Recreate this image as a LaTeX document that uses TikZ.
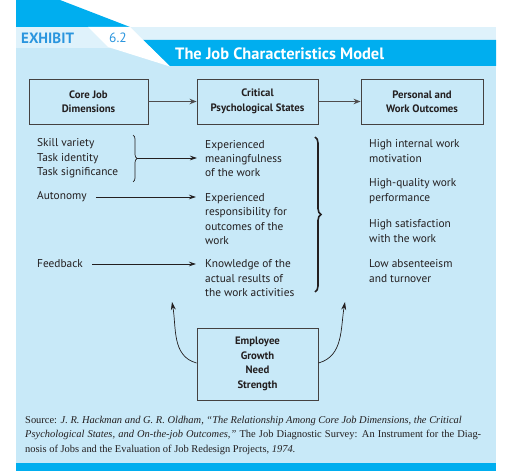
\documentclass[tikz,border=0pt]{standalone}
\usepackage{fontspec}
\setmainfont{PT Sans}
\newfontfamily\srcfont{Liberation Serif}
\usetikzlibrary{arrows.meta,decorations.pathreplacing}
\definecolor{cyanD}{HTML}{00AEEF}
\definecolor{panel}{HTML}{C8E9F8}
\definecolor{band}{HTML}{DFF2FB}
\definecolor{exh}{HTML}{2A95DE}
\definecolor{ink}{HTML}{231F20}
\tikzset{
  hbox/.style={draw=ink!85, line width=0.9pt, minimum height=45bp, align=center, font=\fontsize{10.8}{14.5}\selectfont\bfseries, text=ink, inner sep=0pt},
  body/.style={anchor=west, align=left, inner sep=0pt, font=\fontsize{11.4}{14.5}\selectfont, text=ink},
  bigarrow/.style={draw=ink!80, line width=1.3pt, -{Stealth[length=7bp,width=5.5bp]}},
  thinarrow/.style={draw=ink, line width=0.7pt, -{Stealth[length=7bp,width=4.5bp]}},
}
\begin{document}
\begin{tikzpicture}[x=1bp,y=-1bp]
\useasboundingbox (0,0) rectangle (518,471);
% background
\fill[panel] (16,27) rectangle (496,463);
\fill[band] (16,27) rectangle (496,40);
\fill[band] (16,27) rectangle (110,48);
\fill[cyanD] (16,0) -- (60,0) -- (130,27) -- (16,27) -- cycle;
\fill[cyanD] (143,40) -- (496,40) -- (496,66) -- (170,66) -- cycle;
\fill[white] (88,27) -- (130,27) -- (170,66.5) -- (108,47) -- cycle;
\fill[cyanD] (16,463) rectangle (496,471);
% header texts
\node[anchor=west, inner sep=0pt, text=exh, font=\fontsize{15}{15}\selectfont\bfseries] (exhibit) at (21,38) {EXHIBIT};
\node[anchor=west, inner sep=0pt, text=exh, font=\fontsize{13.5}{14}\selectfont] (num) at (109,38) {6.2};
\node[anchor=west, inner sep=0pt, text=white, font=\fontsize{16.5}{16}\selectfont\bfseries] (title) at (175,54) {The Job Characteristics Model};
% boxes
\node[hbox, minimum width=119bp] (core) at (88.5,101.5) {Core Job\\Dimensions};
\node[hbox, minimum width=121bp] (crit) at (257.5,101.5) {Critical\\Psychological States};
\node[hbox, minimum width=122bp] (pers) at (422,101.5) {Personal and\\Work Outcomes};
\node[hbox, minimum width=121bp, minimum height=72bp] (egns) at (257.5,364) {Employee\\Growth\\Need\\Strength};
\draw[bigarrow] (core) -- (crit);
\draw[bigarrow] (crit) -- (pers);
% left column
\node[body] (skills) at (37,158.5) {Skill variety\\Task identity\\Task significance};
\node[body] (auton) at (37,197) {Autonomy};
\node[body] (feed) at (37,264) {Feedback};
% middle column
\node[body] (mean) at (205,158.5) {Experienced\\meaningfulness\\of the work};
\node[body] (resp) at (205,219) {Experienced\\responsibility for\\outcomes of the\\work};
\node[body] (know) at (205,278.5) {Knowledge of the\\actual results of\\the work activities};
% right column
\node[body] (o1) at (369,151) {High internal work\\motivation};
\node[body] (o2) at (369,191) {High-quality work\\performance};
\node[body] (o3) at (369,231) {High satisfaction\\with the work};
\node[body] (o4) at (369,271) {Low absenteeism\\and turnover};
% braces
\draw[ink, line width=0.7pt, decorate, decoration={brace, amplitude=4bp}] (133,135) -- (133,182);
\coordinate (btip) at (137,158);
\draw[thinarrow, shorten >=8bp] (btip) -- (btip -| mean.west);
\draw[ink, line width=1.6pt, decorate, decoration={brace, amplitude=6bp}] (315,137) -- (315,292);
% arrows
\draw[thinarrow, shorten <=9bp, shorten >=9bp] (auton.east) -- (auton.east -| resp.west);
\draw[thinarrow, shorten <=9bp, shorten >=9bp] (feed.east) -- (feed.east -| know.west);
\coordinate (tl) at (172,302);
\coordinate (tr) at (345,302);
\draw[ink, line width=0.7pt, -{Stealth[length=8bp,width=5bp]}] (egns.west) ++(0,-1) to[out=165, in=-80] (tl);
\draw[ink, line width=0.7pt, -{Stealth[length=8bp,width=5bp]}] (egns.east) ++(0,-1) to[out=15, in=-100] (tr);
% source
\node[anchor=north west, inner sep=0pt, text width=456bp, align=justify, text=ink, font=\srcfont\fontsize{10.5}{14.5}\selectfont] (src) at (25,416)
{Source: \textit{J. R. Hackman and G. R. Oldham, “The Relationship Among Core Job Dimensions, the Critical}\newline
\textit{Psychological States, and On-the-job Outcomes,”} The Job Diagnostic Survey: An Instrument for the Diag-\linebreak
nosis of Jobs and the Evaluation of Job Redesign Projects, \textit{1974.}};
\end{tikzpicture}
\end{document}
